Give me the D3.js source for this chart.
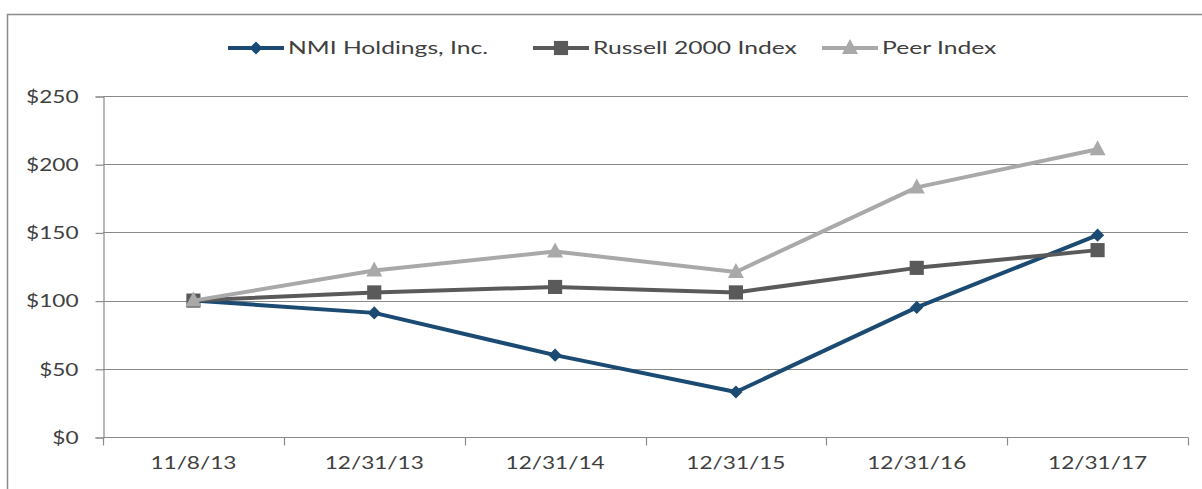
<!DOCTYPE html>
<html>
<head>
<meta charset="utf-8">
<script src="https://cdn.jsdelivr.net/npm/d3@7"></script>
<style>
  body { margin: 0; background: #fff; }
  svg text { font-family: Lato, "Open Sans", sans-serif; fill: #404040; }
</style>
</head>
<body>
<svg id="chart" width="1202" height="489"></svg>
<script>
const dates = ["11/8/13", "12/31/13", "12/31/14", "12/31/15", "12/31/16", "12/31/17"];
const nmiValues = [100, 91, 60, 33, 95, 148];
const russellValues = [100, 106, 110, 106, 124, 137];
const peerValues = [100, 122, 136, 121, 183, 211];
const yTicks = [0, 50, 100, 150, 200, 250];

const seriesList = [
    { name: "NMI Holdings, Inc.", values: nmiValues, color: "#1b4a72", marker: "diamond" },
    { name: "Russell 2000 Index", values: russellValues, color: "#5a5a5a", marker: "square" },
    { name: "Peer Index", values: peerValues, color: "#a9a9a9", marker: "triangle" }
];

// the source picture is stretched sideways, so text gets a horizontal scale
const axisStretch = 1.33;
const legendStretch = 1.37;

const svg = d3.select("svg#chart");

/* outer chart frame */
svg.append("path")
    .attr("d", "M7.5,489 L7.5,14.5 L1202,14.5")
    .attr("fill", "none")
    .attr("stroke", "#8c8c8c")
    .attr("stroke-width", 1.5);

let plot = { left: 103, right: 1188, top: 96, bottom: 437 };

let xScale = d3.scaleBand()
    .domain(dates)
    .range([plot.left, plot.right])
    .padding(0);

let yScale = d3.scaleLinear()
    .domain([0, 250])
    .range([plot.bottom, plot.top]);

/* gridlines */
svg.append("g")
    .selectAll("line")
    .data(yTicks.filter(d => d > 0))
    .join("line")
    .attr("x1", plot.left)
    .attr("x2", plot.right)
    .attr("y1", d => Math.round(yScale(d)) + 0.5)
    .attr("y2", d => Math.round(yScale(d)) + 0.5)
    .attr("stroke", "#8a8a8a")
    .attr("stroke-width", 1.2);

/* y axis */
let yAxis = d3.axisLeft(yScale)
    .tickValues(yTicks)
    .tickSize(8)
    .tickPadding(0)
    .tickFormat(d => "$" + d);

let yAxisG = svg.append("g")
    .attr("transform", "translate(" + (plot.left + 0.5) + ",0.5)")
    .call(yAxis);
yAxisG.select(".domain").attr("stroke", "#8a8a8a").attr("stroke-width", 1.2);
yAxisG.selectAll(".tick line").attr("stroke", "#8a8a8a").attr("stroke-width", 1.2);
yAxisG.selectAll(".tick text")
    .style("font-size", "17px")
    .attr("x", 0)
    .attr("dy", "0.34em")
    .attr("transform", "translate(-25,0) scale(" + axisStretch + ",1)");

/* x axis: ticks sit between categories */
let xAxisG = svg.append("g")
    .attr("transform", "translate(0," + (plot.bottom + 0.5) + ")");
xAxisG.append("line")
    .attr("x1", plot.left)
    .attr("x2", plot.right)
    .attr("stroke", "#8a8a8a")
    .attr("stroke-width", 1.2);
let boundaries = dates.map(d => xScale(d)).concat([plot.right]);
xAxisG.selectAll("line.tick")
    .data(boundaries)
    .join("line")
    .attr("class", "tick")
    .attr("x1", d => Math.round(d) + 0.5)
    .attr("x2", d => Math.round(d) + 0.5)
    .attr("y1", 0)
    .attr("y2", 8)
    .attr("stroke", "#8a8a8a")
    .attr("stroke-width", 1.2);
xAxisG.selectAll("text")
    .data(dates)
    .join("text")
    .attr("transform", d => "translate(" + (xScale(d) + xScale.bandwidth() / 2) + ",31) scale(" + axisStretch + ",1)")
    .attr("text-anchor", "middle")
    .style("font-size", "17px")
    .text(d => d);

/* marker shapes */
function markerPath(type) {
    if (type === "diamond") return d3.symbol().type(d3.symbolDiamond2).size(110)();
    if (type === "square") return d3.symbol().type(d3.symbolSquare).size(200)();
    return "M0,-9 L8,6 L-8,6 Z";
}

let line = d3.line()
    .x((d, i) => xScale(dates[i]) + xScale.bandwidth() / 2)
    .y(d => yScale(d));

seriesList.forEach(s => {
    let g = svg.append("g");
    g.append("path")
        .attr("d", line(s.values))
        .attr("fill", "none")
        .attr("stroke", s.color)
        .attr("stroke-width", 4)
        .attr("stroke-linejoin", "round");
    g.selectAll("path.mk")
        .data(s.values)
        .join("path")
        .attr("class", "mk")
        .attr("d", markerPath(s.marker))
        .attr("transform", (d, i) => "translate(" + (xScale(dates[i]) + xScale.bandwidth() / 2) + "," + yScale(d) + ")")
        .attr("fill", s.color);
});

/* legend */
let legendX = [228, 533, 822];
let legend = svg.append("g").attr("transform", "translate(0,48)");
seriesList.forEach((s, i) => {
    let item = legend.append("g").attr("transform", "translate(" + legendX[i] + ",0)");
    item.append("line")
        .attr("x1", 0).attr("x2", 56)
        .attr("stroke", s.color)
        .attr("stroke-width", 4);
    item.append("path")
        .attr("d", markerPath(s.marker))
        .attr("transform", "translate(28,0)")
        .attr("fill", s.color);
    item.append("text")
        .attr("transform", "translate(60,0) scale(" + legendStretch + ",1)")
        .attr("dy", "0.35em")
        .style("font-size", "18px")
        .text(s.name);
});
</script>
</body>
</html>
